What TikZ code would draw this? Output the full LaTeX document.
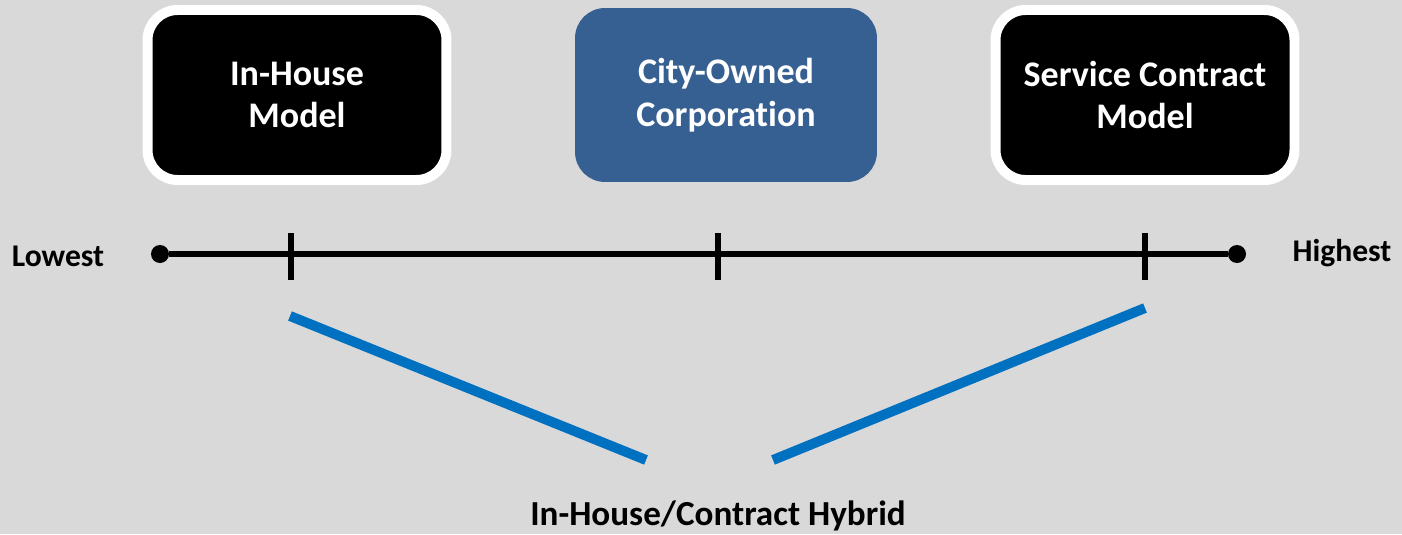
\documentclass[tikz,border=0pt]{standalone}
\usepackage{fontspec}
\setmainfont[Ligatures=NoCommon]{Carlito}
\usepackage{tikz}
\usetikzlibrary{positioning}
\definecolor{bggray}{RGB}{217,217,217}
\definecolor{corpblue}{RGB}{55,96,146}
\definecolor{linkblue}{RGB}{0,112,192}
\tikzstyle{modelbox} = [rectangle, rounded corners=0.6cm, fill=black, draw=white, line width=10*0.567pt, minimum width=5.98cm, minimum height=3.4cm, text=white, align=center, font=\bfseries\fontsize{20.5}{24.4}\selectfont]
\tikzstyle{corpbox} = [rectangle, rounded corners=0.6cm, fill=corpblue, minimum width=6.04cm, minimum height=3.48cm, text=white, align=center, font=\bfseries\fontsize{20.5}{24.4}\selectfont]
\tikzstyle{endlabel} = [font=\bfseries\fontsize{18}{22}\selectfont]
\tikzstyle{scaleline} = [line width=6*0.567pt, color=black]
\tikzstyle{hybline} = [line width=10*0.567pt, color=linkblue]

\begin{document}
\begin{tikzpicture}[x=0.02cm, y=-0.02cm]
% Background
\fill[bggray] (0,0) rectangle (1402,534);
\useasboundingbox (0,0) rectangle (1402,534);

% Models
\node[modelbox] (inhouse) at (297,95) {In-House\\Model};
\node[corpbox] (cityowned) at (726,95) {City-Owned\\Corporation};
\node[modelbox] (service) at (1145,95) {Service Contract\\Model};

% Scale
\node[circle, fill=black, inner sep=0pt, minimum size=0.36cm] (lowend) at (160,254) {};
\node[circle, fill=black, inner sep=0pt, minimum size=0.36cm] (highend) at (1237,254) {};
\draw[scaleline] (lowend) -- (highend);
\coordinate (tickA) at (291,256);
\coordinate (tickB) at (718,256);
\coordinate (tickC) at (1145,256);
\foreach \t in {tickA,tickB,tickC}
  \draw[line width=6*0.567pt] (\t) ++(0,-23) -- ++(0,47);
\node[endlabel] (lowest) at (58,256) {Lowest};
\node[endlabel] (highest) at (1342,253) {Highest};

% Hybrid
\node[anchor=base, inner sep=0pt, font=\bfseries\fontsize{20}{24}\selectfont] (hybrid) at (718,525) {In-House/Contract Hybrid};
\coordinate (hybL) at (646,460);
\coordinate (hybR) at (773,460);
\coordinate (fromA) at (290,316);
\coordinate (fromC) at (1145,308);
\draw[hybline] (fromA) -- (hybL);
\draw[hybline] (fromC) -- (hybR);
\end{tikzpicture}
\end{document}
